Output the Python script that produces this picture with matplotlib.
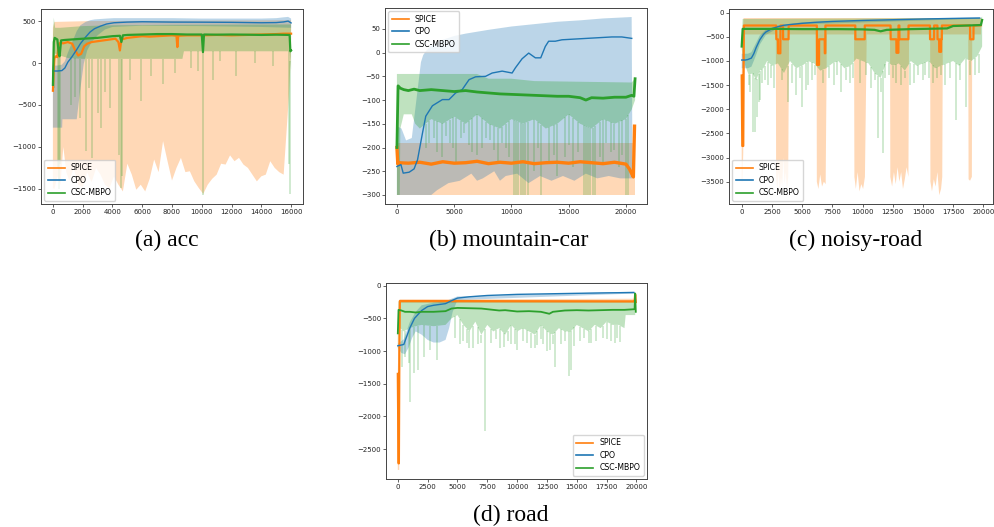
import numpy as np
import matplotlib
matplotlib.use("Agg")
import matplotlib.pyplot as plt
from matplotlib.lines import Line2D

SERIES = ["SPICE", "CPO", "CSC-MBPO"]
COLORS = ["#ff7f0e", "#1f77b4", "#2ca02c"]
CAPTIONS = ["(a) acc", "(b) mountain-car", "(c) noisy-road", "(d) road"]

# ---------------- (a) acc ----------------
A_SPICE_X = [0, 50, 100, 200, 300, 400, 500, 700, 1000, 1300, 1500, 1700, 1900, 2100, 2300, 2600, 3000, 3400, 3800, 4200,
             4400, 4500, 4600, 5000, 5500, 6000, 6500, 7000, 7500, 8000, 8300, 8360, 8420, 9000, 10000, 11000, 12000,
             13000, 14000, 15000, 15500, 16000]
A_SPICE_Y = [-330, -100, 60, 80, 70, 230, 240, 235, 250, 230, 150, 90, 110, 200, 230, 250, 260, 270, 280, 290,
             250, 150, 280, 300, 310, 320, 315, 320, 325, 330, 325, 190, 325, 330, 330, 335, 330,
             335, 340, 345, 350, 350]
A_SPICE_HI_X = [0, 100, 2500, 16000]
A_SPICE_HI = [420, 490, 500, 510]
A_SPICE_LO_X = [0, 100, 300, 500, 700, 900, 1100, 1400, 1700, 2000, 2300, 2600, 2900, 3200, 3500, 3800, 4100, 4400,
                4700, 5000, 5300, 5600, 5900, 6200, 6500, 6800, 7100, 7400, 7700, 8000, 8300, 8600, 8900, 9200, 9500,
                9800, 10100, 10400, 10700, 11000, 11300, 11600, 11900, 12200, 12500, 12800, 13100, 13400, 13700,
                14000, 14300, 14600, 14900, 15200, 15500, 15700, 15850, 16000]
A_SPICE_LO = [-1490, -1500, -1350, -1450, -1000, -1300, -1400, -1250, -1450, -1480, -1300, -1420, -1250, -1330,
              -1450, -1490, -1350, -1450, -1530, -1200, -1330, -1510, -1450, -1530, -1380, -1150, -1300, -930, -1170,
              -1400, -1250, -1130, -1300, -1290, -1410, -1490, -1560, -1450, -1380, -1330, -1200, -1210, -1100,
              -1170, -1130, -1210, -1250, -1330, -1410, -1350, -1330, -1170, -1250, -1300, -1330, -800, -400, 150]

A_CPO_X = [0, 300, 600, 800, 1000, 1300, 1600, 1850, 2200, 2500, 2800, 3200, 3600, 4100, 5000, 6000, 8000, 10000,
           12000, 14000, 15000, 15500, 15800, 16000]
A_CPO_Y = [-95, -95, -90, -60, 10, 80, 160, 232, 310, 370, 410, 440, 465, 480, 488, 492, 488, 487, 485, 480, 482,
           490, 500, 478]
A_CPO_HI = [-30, -30, -20, 20, 120, 250, 380, 450, 490, 510, 520, 525, 530, 535, 535, 535, 535, 530, 530, 530, 535,
            545, 550, 530]
A_CPO_LO_X = [0, 620, 640, 1600, 1850, 2070, 2300, 2600, 3000, 3500, 4000, 6000, 10000, 14000, 16000]
A_CPO_LO = [-770, -770, -670, -670, -300, -10, 150, 250, 330, 400, 430, 445, 440, 430, 420]

A_CSC_X = [0, 60, 120, 300, 400, 450, 550, 800, 1200, 1600, 2000, 2500, 3000, 3500, 4000, 4500, 4600, 4700, 5000,
           6000, 7000, 8000, 9000, 10000, 10080, 10150, 11000, 12000, 13000, 14000, 15000, 15900, 15950, 16000]
A_CSC_Y = [-260, 250, 300, 280, 100, 80, 270, 275, 280, 285, 290, 295, 300, 310, 320, 325, 250, 330, 335,
           340, 345, 345, 340, 340, 130, 340, 338, 340, 338, 335, 338, 335, 140, 150]
A_CSC_HI_X = [0, 60, 150, 500, 2000, 4000, 8000, 16000]
A_CSC_HI = [300, 540, 420, 420, 440, 450, 455, 460]
A_CSC_LO_X = [0, 60, 300, 1000, 2000, 8700, 8800, 15900, 16000]
A_CSC_LO = [-250, 120, 100, 60, 50, 50, 140, 140, -80]
A_CSC_SPK_X = [100, 350, 420, 480, 1500, 2200, 2650, 3000, 3200, 3850, 4450, 4550, 4650, 5950, 7400, 9750, 10100,
               10750, 12300, 15880, 15950, 1200, 1800, 2450, 3500, 5200, 6600, 8200, 9300, 11200, 13600, 14800]
A_CSC_SPK_Y = [-300, -1250, -1500, -1200, -400, -1050, -1130, -600, -770, -530, -1100, -1490, -1350, -450, -250,
               -100, -1570, -200, -150, -1200, -1560, -500, -650, -300, -350, -200, -150, -120, -60, 20, 0, -30]

# ---------------- (b) mountain-car ----------------
B_SPICE_X = [0, 80, 150, 1000, 2000, 3000, 4000, 5000, 6000, 7000, 8000, 9000, 10000, 11000, 12000, 13000, 14000,
             15000, 16000, 17000, 18000, 19000, 20000, 20300, 20500, 20650, 20750]
B_SPICE_Y = [-200, -235, -232, -233, -231, -235, -230, -233, -232, -229, -234, -231, -233, -230, -234, -232, -231,
             -233, -230, -232, -234, -231, -235, -245, -255, -262, -155]
B_SPICE_HI_X = [0, 20750]
B_SPICE_HI = [-190, -190]
B_SPICE_LO_X = [0, 20750]
B_SPICE_LO = [-300, -300]

B_CPO_X = [0, 350, 550, 1070, 1500, 1800, 2230, 2520, 3100, 3970, 4550, 5130, 5700, 6300, 6870, 7740, 8320, 9190,
           10060, 10350, 10930, 11510, 12090, 12560, 12960, 13250, 13830, 14410, 15860, 17320, 18770, 19640, 20510]
B_CPO_Y = [-240, -236, -254, -252, -245, -226, -170, -134, -112, -99, -99, -85, -78, -57, -51, -50, -43, -39, -43,
           -32, -13, -1, -11, -11, 13, 24, 24, 27, 29, 31, 33, 33, 30]
B_CPO_HI_X = [0, 400, 800, 1300, 1600, 1900, 2100, 2300, 2600, 3000, 4000, 5000, 6000, 8000, 10000, 12000, 14000,
              16000, 18000, 20500, 20550]
B_CPO_HI = [-155, -160, -185, -180, -120, -60, -20, -5, 5, 15, 27, 35, 40, 48, 55, 60, 65, 68, 72, 75, -150]
B_CPO_LO_X = [0, 3000, 3500, 4500, 5500, 6500, 7000, 7500, 8500, 9000, 9500, 10500, 11500, 12500, 13500, 14500,
              15500, 16500, 17500, 18500, 19500, 20550]
B_CPO_LO = [-300, -300, -290, -275, -270, -255, -270, -265, -250, -270, -260, -255, -275, -260, -270, -260, -270,
            -255, -265, -260, -265, -265]

B_CSC_X = [0, 100, 300, 600, 1000, 1500, 2000, 3000, 4000, 5000, 6000, 7000, 8000, 9000, 10000, 11000, 12000,
           13000, 14000, 15000, 16000, 16500, 17000, 18000, 19000, 20000, 20500, 20700, 20800]
B_CSC_Y = [-200, -70, -75, -78, -80, -77, -80, -78, -80, -82, -80, -83, -85, -87, -88, -89, -90, -91, -92, -92, -95,
           -100, -95, -96, -94, -94, -90, -92, -55]
B_CSC_HI_X = [0, 7000, 8000, 10000, 12000, 20500, 20800]
B_CSC_HI = [-45, -45, -55, -55, -60, -63, -55]
B_CSC_LO_X = [0, 250, 300, 600, 1300, 1600, 2000, 3000, 4000, 5000, 6000, 7000, 8000, 9000, 10000, 11000, 12000,
              13000, 14000, 15000, 16000, 17000, 18000, 19000, 20000, 20500, 20800]
B_CSC_LO = [-300, -300, -160, -130, -130, -150, -160, -140, -150, -135, -150, -130, -150, -160, -140, -150, -140,
            -160, -150, -130, -150, -160, -140, -150, -140, -120, -100]
B_CSC_SPK_X = [2500, 3200, 3900, 4600, 5200, 5900, 6600, 7400, 8100, 8800, 9500, 10250, 10400, 10600, 10800, 11000,
               11200, 11450, 12000, 12600, 13300, 14000, 14700, 15400, 16300, 16500, 16700, 16900, 17100, 17300,
               18000, 18700, 19400, 20000, 20200, 2800, 3500, 4300, 4900, 5600, 6300, 7000, 7800, 8500, 9200, 9800,
               12300, 13700, 15000, 15800, 17700, 18300, 19000, 19700]
B_CSC_SPK_Y = [-200, -180, -220, -190, -230, -170, -210, -200, -185, -230, -200, -300, -300, -300, -300, -300,
               -300, -300, -250, -300, -230, -260, -220, -240, -300, -300, -300, -300, -300, -300,
               -230, -210, -240, -300, -300, -190, -210, -175, -200, -180, -195, -215, -180, -205, -190, -220,
               -200, -215, -195, -210, -220, -190, -205, -215]

# ---------------- (c) noisy-road ----------------
C_SPICE_X = [0, 50, 130, 180, 2850, 2870, 3000, 3010, 3200, 3210, 3420, 3430, 3880, 3890, 6220, 6230, 6400, 6410,
             6870, 6880, 6920, 6930, 9400, 9410, 10180, 10190, 12320, 12330, 12800, 12810, 12970, 12980, 13050,
             13060, 13800, 13810, 15580, 15590, 15920, 15930, 16200, 16210, 16340, 16350, 16500, 16510, 16560,
             16570, 18900, 18910, 19180, 19190, 19800]
C_SPICE_Y = [-1300, -2760, -2760, -265, -265, -550, -550, -840, -840, -265, -265, -550, -550, -265, -265, -1080,
             -1080, -550, -550, -840, -840, -265, -265, -550, -550, -265, -265, -550, -550, -830, -830, -265, -265,
             -550, -550, -265, -265, -550, -550, -265, -265, -550, -550, -810, -810, -550, -550,
             -265, -265, -550, -550, -265, -260]
C_SPICE_HI_X = [0, 150, 19800]
C_SPICE_HI = [-1300, -110, -110]
C_SPICE_LO_X = [0, 60, 130, 170, 2830, 2850, 2950, 3050, 3150, 3250, 3350, 3450, 3550, 3650, 3750, 3850, 3920, 6200,
                6220, 6350, 6500, 6650, 6800, 6950, 7050, 9300, 9330, 9450, 9600, 9750, 9900, 10050, 10200, 10350,
                12280, 12300, 12450, 12600, 12750, 12900, 13050, 13200, 13350, 13500, 13650, 13800, 13850, 15600,
                15620, 15750, 15900, 16050, 16200, 16350, 16500, 16600, 16650, 18750, 18780, 18900, 19050, 19080,
                19800]
C_SPICE_LO = [-3500, -3500, -2900, -450, -450, -3400, -3650, -3300, -3700, -3400, -3600, -3000, -3550, -3300, -3650,
              -3400, -450, -450, -3500, -3650, -3350, -3600, -3500, -3550, -450, -450, -3400, -3650, -3300, -3700,
              -3550, -3650, -3400, -450, -450, -3400, -3600, -3300, -3550, -3200, -3500, -3300, -3650, -3450, -3200,
              -3400, -450, -450, -3500, -3700, -3450, -3600, -3300, -3780, -3650, -3400, -450, -450, -3450, -3480,
              -3400, -450, -450]

C_CPO_X = [0, 300, 500, 800, 1000, 1200, 1500, 1800, 2000, 2500, 3000, 3500, 4000, 5000, 6000, 7500, 10000, 12500,
           15000, 17500, 19700]
C_CPO_Y = [-980, -980, -970, -940, -850, -720, -560, -450, -400, -330, -290, -260, -245, -220, -200, -180, -160,
           -145, -130, -118, -110]
C_CPO_HI_X = [0, 500, 800, 1000, 1500, 2000, 3000, 5000, 19700]
C_CPO_HI = [-850, -850, -820, -720, -470, -350, -260, -200, -95]
C_CPO_LO_X = [0, 500, 800, 1000, 1200, 1500, 2000, 3000, 5000, 19700]
C_CPO_LO = [-1150, -1150, -1120, -1000, -870, -660, -460, -320, -240, -125]

C_CSC_X = [0, 80, 1000, 3000, 5000, 8000, 10000, 11000, 11500, 12000, 14000, 16000, 17000, 17500, 19800, 19900]
C_CSC_Y = [-700, -335, -335, -335, -340, -340, -345, -355, -385, -355, -340, -330, -325, -275, -255, -150]
C_CSC_HI_X = [0, 80, 19800, 19900]
C_CSC_HI = [-600, -130, -110, -80]
C_CSC_LO_X = [0, 80, 300, 600, 900, 1200, 1500, 1800, 2100, 2500, 3000, 3500, 4000, 4500, 5000, 5500, 6000, 6500,
              7000, 7500, 8000, 8500, 9000, 9500, 10000, 10500, 11000, 11500, 12000, 12500, 13000, 13500, 14000,
              14500, 15000, 15500, 16000, 16500, 17000, 17500, 18000, 18500, 19000, 19500, 19900]
C_CSC_LO = [-750, -900, -1100, -1300, -1250, -1400, -1200, -1150, -1000, -1100, -1050, -1250, -1000, -1150, -1100,
            -1000, -1050, -1200, -1150, -1050, -1000, -1150, -1100, -950, -1000, -1050, -1250, -1350, -1000, -1100,
            -1050, -1200, -1000, -1100, -1050, -1000, -1150, -1100, -1050, -1000, -1100, -950, -1000, -900, -700]
C_CSC_SPK_X = [900, 1100, 1250, 1400, 1500, 2200, 3800, 4500, 5000, 5500, 8200, 9000, 11300, 11700, 12500, 13200,
               14300, 15200, 16200, 17700, 18600, 19300, 600, 700, 1700, 1900, 2400, 2700, 3300, 4200, 4800, 5300,
               5800, 6100, 6700, 7200, 7600, 7900, 8600, 9200, 9800, 10300, 10700, 11000, 11500, 11900, 12200,
               12800, 13500, 13900, 14600, 15000, 15500, 15800, 16500, 16800, 17200, 18100, 18900, 19600]
C_CSC_SPK_Y = [-2480, -2480, -2150, -1850, -1800, -1500, -1850, -1700, -1950, -1500, -1650, -1450, -2600, -2900,
               -1350, -1500, -1450, -1300, -1350, -2230, -1950, -1300, -1500, -1650, -1450, -1400, -1350, -1550,
               -1400, -1450, -1350, -1600, -1400, -1300, -1450, -1350, -1500, -1300, -1400, -1350, -1450, -1300,
               -1550, -1400, -1650, -1350, -1300, -1450, -1350, -1500, -1300, -1400, -1350, -1450, -1300, -1500,
               -1350, -1400, -1300, -1250]

# ---------------- (d) road ----------------
D_SPICE_X = [0, 30, 60, 90, 130, 170, 19800, 19850, 19900, 19950]
D_SPICE_Y = [-1350, -2000, -2720, -2720, -1000, -235, -240, -240, -135, -250]
D_SPICE_HI_X = [0, 150, 19950]
D_SPICE_HI = [-1300, -210, -200]
D_SPICE_LO_X = [0, 120, 170, 19950]
D_SPICE_LO = [-2820, -2820, -265, -265]

D_CPO_X = [0, 500, 700, 1000, 1400, 2000, 2500, 3000, 4000, 4500, 5000, 6000, 7500, 10000, 12500, 15000, 17500,
           19800]
D_CPO_Y = [-920, -900, -800, -650, -500, -380, -320, -300, -275, -230, -190, -170, -150, -133, -125, -117, -110, -105]
D_CPO_HI_X = [0, 500, 1000, 1500, 2000, 3000, 4000, 4500, 5000, 19800]
D_CPO_HI = [-890, -820, -560, -400, -300, -260, -240, -200, -165, -90]
D_CPO_LO_X = [0, 300, 600, 900, 1200, 1500, 2000, 2500, 3000, 3500, 4000, 4300, 4600, 5000, 19800]
D_CPO_LO = [-950, -1030, -1050, -950, -800, -700, -750, -830, -870, -870, -830, -650, -400, -220, -120]

D_CSC_X = [0, 60, 300, 600, 1000, 1500, 2000, 3000, 4000, 4500, 5000, 6000, 7000, 7500, 8000, 8500, 9000, 10000,
           11000, 12000, 12700, 13000, 14000, 15000, 16000, 17000, 18000, 19000, 19850, 19900, 19950]
D_CSC_Y = [-730, -370, -380, -400, -400, -410, -400, -400, -390, -350, -340, -345, -350, -360, -370, -380, -375,
           -395, -390, -400, -430, -400, -380, -375, -380, -375, -370, -370, -360, -120, -400]
D_CSC_HI_X = [0, 60, 19900]
D_CSC_HI = [-600, -240, -240]
D_CSC_LO_X = [0, 60, 200, 500, 1000, 1500, 2000, 3000, 4000, 4500, 5000, 5500, 6000, 6500, 7000, 7500, 8000, 8500,
              9000, 9500, 10000, 10500, 11000, 11500, 12000, 12500, 13000, 13500, 14000, 14500, 15000, 15500, 16000,
              16500, 17000, 17500, 18000, 18500, 19000, 19100, 19900]
D_CSC_LO = [-1000, -700, -650, -700, -650, -620, -600, -620, -600, -500, -450, -600, -700, -550, -750, -600, -700,
            -650, -750, -600, -700, -650, -700, -750, -600, -700, -750, -650, -700, -700, -600, -650, -700, -600,
            -650, -550, -600, -600, -650, -450, -450]
D_CSC_SPK_X = [340, 620, 900, 1040, 1320, 1660, 2160, 2720, 3290, 5810, 6300, 7300, 7780, 8900, 9500, 10030, 10500,
               11200, 11710, 12200, 12500, 13200, 13700, 14380, 14520, 15300, 16210, 17200, 17900, 18600, 4800,
               5200, 5500, 6000, 6700, 7000, 8200, 8600, 9200, 9800, 10800, 11500, 12000, 12800, 13000, 14000,
               14800, 15600, 16000, 16600, 17500, 18200, 18400]
D_CSC_SPK_Y = [-1240, -1090, -1190, -1775, -1340, -1290, -1090, -985, -1140, -880, -950, -2220, -880, -935, -900,
               -985, -850, -950, -910, -900, -1000, -1240, -900, -1390, -1290, -850, -880, -800, -850, -860, -800,
               -900, -850, -950, -900, -880, -820, -950, -850, -900, -880, -950, -820, -980, -900, -850, -930,
               -800, -880, -840, -820, -870, -800]


def band(ax, hx, hy, lx, ly, color, alpha=0.3):
    xs = list(hx) + list(lx)[::-1]
    ys = list(hy) + list(ly)[::-1]
    ax.fill(xs, ys, color=color, alpha=alpha, lw=0)


def spikes(ax, sx, sy, lx, ly, color, alpha=0.3, lw=1.0):
    top = np.interp(sx, lx, ly)
    ax.vlines(sx, sy, top, colors=color, alpha=alpha, lw=lw)


W, H = 995, 527
fig = plt.figure(figsize=(W / 100, H / 100), dpi=100)


def make_ax(l, t, r, b):
    return fig.add_axes([l / W, 1 - b / H, (r - l) / W, (b - t) / H])


panels = [
    dict(rect=(41, 9, 303, 204), xlim=(-800, 16800), ylim=(-1680, 644),
         xt=list(range(0, 16001, 2000)), yt=list(range(-1500, 501, 500)), loc="lower left", lw=(1.6, 1.0, 1.6)),
    dict(rect=(385, 8, 647, 204), xlim=(-1040, 21840), ylim=(-319, 94),
         xt=list(range(0, 20001, 5000)), yt=list(range(-300, 51, 50)), loc="upper left", lw=(2.4, 1.0, 2.0)),
    dict(rect=(729, 9, 993, 204), xlim=(-1050, 20800), ylim=(-3962, 77),
         xt=list(range(0, 20001, 2500)), yt=list(range(-3500, 1, 500)), loc="lower left", lw=(1.6, 1.0, 1.6)),
    dict(rect=(386, 283, 647, 479), xlim=(-990, 20890), ylim=(-2959, 41),
         xt=list(range(0, 20001, 2500)), yt=list(range(-2500, 1, 500)), loc="lower right", lw=(1.6, 1.0, 1.3)),
]

data = [
    (A_SPICE_X, A_SPICE_Y, A_SPICE_HI_X, A_SPICE_HI, A_SPICE_LO_X, A_SPICE_LO,
     A_CPO_X, A_CPO_Y, A_CPO_X, A_CPO_HI, A_CPO_LO_X, A_CPO_LO,
     A_CSC_X, A_CSC_Y, A_CSC_HI_X, A_CSC_HI, A_CSC_LO_X, A_CSC_LO, A_CSC_SPK_X, A_CSC_SPK_Y),
    (B_SPICE_X, B_SPICE_Y, B_SPICE_HI_X, B_SPICE_HI, B_SPICE_LO_X, B_SPICE_LO,
     B_CPO_X, B_CPO_Y, B_CPO_HI_X, B_CPO_HI, B_CPO_LO_X, B_CPO_LO,
     B_CSC_X, B_CSC_Y, B_CSC_HI_X, B_CSC_HI, B_CSC_LO_X, B_CSC_LO, B_CSC_SPK_X, B_CSC_SPK_Y),
    (C_SPICE_X, C_SPICE_Y, C_SPICE_HI_X, C_SPICE_HI, C_SPICE_LO_X, C_SPICE_LO,
     C_CPO_X, C_CPO_Y, C_CPO_HI_X, C_CPO_HI, C_CPO_LO_X, C_CPO_LO,
     C_CSC_X, C_CSC_Y, C_CSC_HI_X, C_CSC_HI, C_CSC_LO_X, C_CSC_LO, C_CSC_SPK_X, C_CSC_SPK_Y),
    (D_SPICE_X, D_SPICE_Y, D_SPICE_HI_X, D_SPICE_HI, D_SPICE_LO_X, D_SPICE_LO,
     D_CPO_X, D_CPO_Y, D_CPO_HI_X, D_CPO_HI, D_CPO_LO_X, D_CPO_LO,
     D_CSC_X, D_CSC_Y, D_CSC_HI_X, D_CSC_HI, D_CSC_LO_X, D_CSC_LO, D_CSC_SPK_X, D_CSC_SPK_Y),
]

for p, d in zip(panels, data):
    ax = make_ax(*p["rect"])
    (sx, sy, shx, shy, slx, sly, cx, cy, chx, chy, clx, cly,
     gx, gy, ghx, ghy, glx, gly, gsx, gsy) = d
    band(ax, shx, shy, slx, sly, COLORS[0])
    band(ax, chx, chy, clx, cly, COLORS[1])
    band(ax, ghx, ghy, glx, gly, COLORS[2])
    spikes(ax, gsx, gsy, glx, gly, COLORS[2], alpha=0.28, lw=1.1)
    ax.plot(sx, sy, color=COLORS[0], lw=p["lw"][0])
    ax.plot(cx, cy, color=COLORS[1], lw=p["lw"][1])
    ax.plot(gx, gy, color=COLORS[2], lw=p["lw"][2])
    ax.set_xlim(*p["xlim"])
    ax.set_ylim(*p["ylim"])
    ax.set_xticks(p["xt"])
    ax.set_yticks(p["yt"])
    ax.tick_params(labelsize=5, length=2, width=0.5, pad=1.5, colors="#222")
    for s in ax.spines.values():
        s.set_linewidth(0.7)
        s.set_color("#444")
    handles = [Line2D([], [], color=c, lw=1.2) for c in COLORS]
    ax.legend(handles, SERIES, loc=p["loc"], fontsize=5.6, borderaxespad=0.4, handlelength=2.2,
              labelspacing=0.45, borderpad=0.45)

cap_pos = [(167, 240), (509, 240), (856, 240), (511, 515)]
for (cxp, cyp), t in zip(cap_pos, CAPTIONS):
    fig.text(cxp / W, 1 - cyp / H, t, ha="center", va="center", fontsize=17, family="Liberation Serif")

fig.savefig("out.png", dpi=100)
